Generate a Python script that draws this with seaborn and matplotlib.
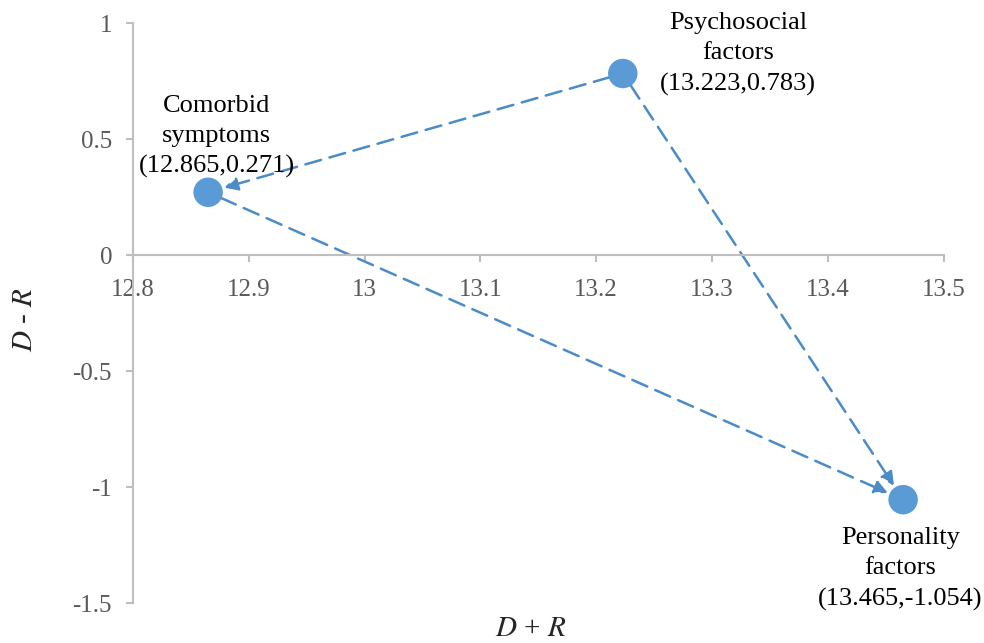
import matplotlib
matplotlib.use("Agg")
import matplotlib.pyplot as plt
import seaborn as sns
import pandas as pd

# Data
factors = ["Comorbid\nsymptoms", "Psychosocial\nfactors", "Personality\nfactors"]
d_plus_r = [12.865, 13.223, 13.465]
d_minus_r = [0.271, 0.783, -1.054]
coord_labels = ["(12.865,0.271)", "(13.223,0.783)", "(13.465,-1.054)"]
# arrows: (from index, to index)
links = [(1, 0), (1, 2), (0, 2)]
x_ticks = [12.8, 12.9, 13.0, 13.1, 13.2, 13.3, 13.4, 13.5]
y_ticks = [1, 0.5, 0, -0.5, -1, -1.5]

sns.set_theme(style="white")
plt.rcParams["font.family"] = ["Liberation Serif", "DejaVu Serif"]
plt.rcParams["mathtext.fontset"] = "stix"

blue = "#5B9BD5"
line_blue = "#4A8BC8"
grey_axis = "#BFBFBF"
grey_text = "#595959"

df = pd.DataFrame({"x": d_plus_r, "y": d_minus_r, "factor": factors})

fig = plt.figure(figsize=(9.84, 6.43), dpi=100)
ax = fig.add_axes([0.135, 0.062, 0.824, 0.902])

# arrows
for a, b in links:
    ax.annotate("", xy=(d_plus_r[b], d_minus_r[b]), xytext=(d_plus_r[a], d_minus_r[a]),
                arrowprops=dict(arrowstyle="-|>", color=line_blue, lw=1.8,
                                linestyle=(0, (6.5, 3.5)), shrinkA=10, shrinkB=12,
                                mutation_scale=20),
                zorder=2)

sns.scatterplot(data=df, x="x", y="y", s=450, color=blue, edgecolor="none",
                ax=ax, zorder=3, legend=False)

# labels
offsets = [((6, 10), "center", "bottom"),
           ((27, 14), "left", "center"),
           ((-2, -20), "center", "top")]
for i, (off, ha, va) in enumerate(offsets):
    txt = factors[i] + "\n" + coord_labels[i]
    ax.annotate(txt, xy=(d_plus_r[i], d_minus_r[i]), xytext=off,
                textcoords="offset points", ha=ha,
                va=va, fontsize=19, color="black", linespacing=1.47,
                multialignment="center")

ax.set_xlim(12.8, 13.5)
ax.set_ylim(-1.5, 1)
ax.set_xticks(x_ticks)
ax.set_yticks(y_ticks)
ax.set_xticklabels([f"{v:g}" for v in x_ticks])
ax.set_yticklabels([f"{v:g}" for v in y_ticks])

for s in ["top", "right"]:
    ax.spines[s].set_visible(False)
ax.spines["bottom"].set_position(("data", 0))
for s in ["left", "bottom"]:
    ax.spines[s].set_color(grey_axis)
    ax.spines[s].set_linewidth(1.5)

ax.tick_params(axis="both", which="major", colors=grey_axis, labelcolor=grey_text,
               labelsize=18, length=5, width=1.5, direction="out")
ax.tick_params(axis="x", pad=12, bottom=True)
ax.tick_params(axis="y", pad=10, left=True)

ax.set_xlabel("")
ax.set_ylabel("")
fig.text(0.539, 0.022, r"$D$ + $R$", ha="center", va="center", fontsize=21)
fig.text(0.025, 0.503, r"$D$ - $R$", ha="center", va="center", fontsize=21, rotation=90)

fig.savefig("out.png", dpi=100)
